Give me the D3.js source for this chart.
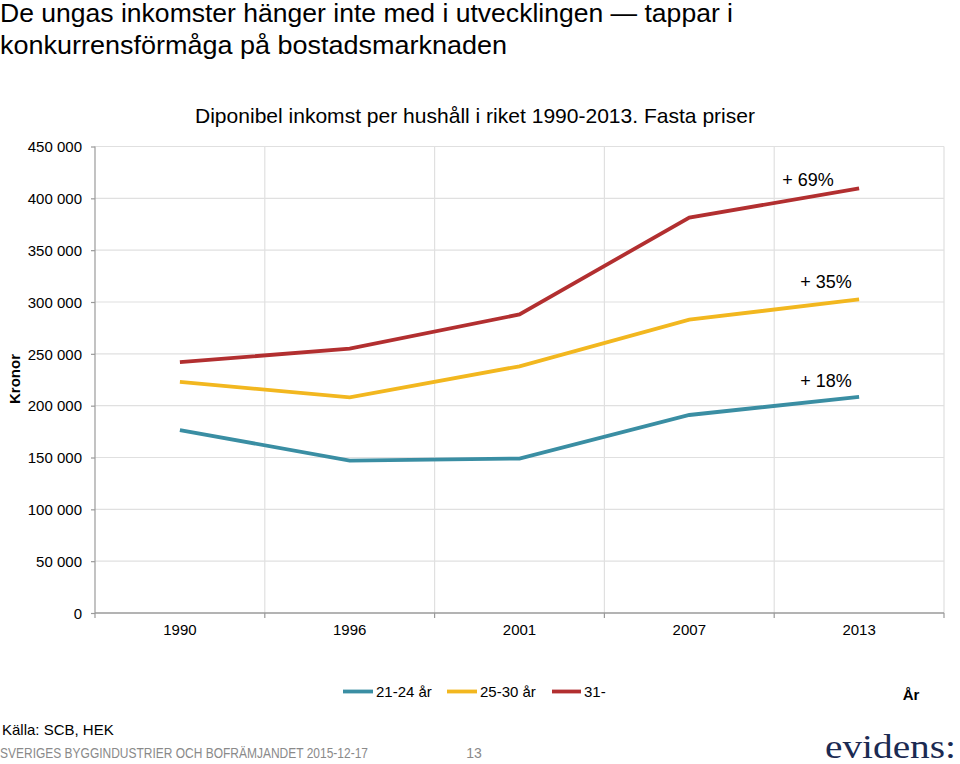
<!DOCTYPE html>
<html><head><meta charset="utf-8">
<script src="https://cdnjs.cloudflare.com/ajax/libs/d3/7.8.5/d3.min.js"></script>
<style>html,body{margin:0;padding:0;background:#fff}svg{display:block}text{font-family:"Liberation Sans",Arial,sans-serif;fill:#000}</style>
</head><body><svg id="c" width="960" height="764"></svg>
<script>
const years=["1990","1996","2001","2007","2013"];
const young=[176500,147000,149000,191000,208500];
const mid=[223000,208000,238000,283000,302500];
const older=[242000,255000,288000,381500,409500];
const yTicks=[0,50000,100000,150000,200000,250000,300000,350000,400000,450000];
const seriesNames=["21-24 år","25-30 år","31-"];
const seriesColors=["#3a8ea3","#f2b71f","#b22f30"];
const changeLabels=["+ 18%","+ 35%","+ 69%"];

const svg=d3.select("#c");
const L=95,R=944,T=146.5,B=613;
const x=d3.scaleBand().domain(years).range([L,R]);
const y=d3.scaleLinear().domain([0,450000]).range([B,T]);
const fmt=v=>d3.format(",")(v).replace(/,/g," ");

// gridlines
svg.append("g").selectAll("line").data(yTicks.slice(1)).join("line")
 .attr("x1",L).attr("x2",R).attr("y1",d=>y(d)).attr("y2",d=>y(d))
 .attr("stroke","#e0e0e0").attr("stroke-width",1.2);
const edges=years.map(d=>x(d)).concat([R]);
svg.append("g").selectAll("line").data(edges.slice(1)).join("line")
 .attr("x1",d=>d).attr("x2",d=>d).attr("y1",T).attr("y2",B)
 .attr("stroke","#e0e0e0").attr("stroke-width",1.2);

// axes
const yAxis=svg.append("g").attr("transform",`translate(${L},0)`)
 .call(d3.axisLeft(y).tickValues(yTicks).tickFormat(fmt).tickSize(4).tickPadding(9));
yAxis.selectAll("path,line").attr("stroke","#9a9a9a").attr("stroke-width",1.2);
yAxis.selectAll("text").attr("font-size",15).attr("dy","0.35em");
yAxis.select("path").attr("d",`M0,${T}V${B}`);
const xAxis=svg.append("g").attr("transform",`translate(0,${B})`)
 .call(d3.axisBottom(x).tickSize(0).tickPadding(11));
xAxis.selectAll("text").attr("font-size",15);
xAxis.select("path").attr("d",`M${L},0H${R}`).attr("stroke","#9a9a9a").attr("stroke-width",1.6);
svg.append("g").selectAll("line").data(edges).join("line")
 .attr("x1",d=>d).attr("x2",d=>d).attr("y1",B).attr("y2",B+5)
 .attr("stroke","#9a9a9a").attr("stroke-width",1.2);

// lines
const line=d3.line().x((d,i)=>x(years[i])+x.bandwidth()/2).y(d=>y(d));
[young,mid,older].forEach((s,i)=>{
 svg.append("path").attr("d",line(s)).attr("fill","none")
  .attr("stroke",seriesColors[i]).attr("stroke-width",3.8);
});

// titles
svg.append("text").attr("x",0).attr("y",21.5).attr("font-size",26).attr("textLength",733).attr("lengthAdjust","spacingAndGlyphs").text("De ungas inkomster hänger inte med i utvecklingen — tappar i");
svg.append("text").attr("x",0).attr("y",54).attr("font-size",26).attr("textLength",507).attr("lengthAdjust","spacingAndGlyphs").text("konkurrensförmåga på bostadsmarknaden");
svg.append("text").attr("x",195).attr("y",123).attr("font-size",21).attr("textLength",560).attr("lengthAdjust","spacingAndGlyphs").text("Diponibel inkomst per hushåll i riket 1990-2013. Fasta priser");

// annotations
[[826,387],[826,288],[808,186]].forEach((p,i)=>{
 svg.append("text").attr("x",p[0]).attr("y",p[1]).attr("font-size",18).attr("text-anchor","middle").text(changeLabels[i]);
});

svg.append("text").attr("transform","translate(20,379) rotate(-90)").attr("text-anchor","middle")
 .attr("font-size",15).attr("font-weight","bold").text("Kronor");

// legend
[[343,376],[447,480],[552,584]].forEach((p,i)=>{
 svg.append("line").attr("x1",p[0]).attr("x2",p[1]-3).attr("y1",691.5).attr("y2",691.5)
  .attr("stroke",seriesColors[i]).attr("stroke-width",3.8);
 svg.append("text").attr("x",p[1]).attr("y",697).attr("font-size",15).text(seriesNames[i]);
});
svg.append("text").attr("x",911).attr("y",700).attr("text-anchor","middle").attr("font-size",15).attr("font-weight","bold").text("År");

// footer
svg.append("text").attr("x",2).attr("y",735).attr("font-size",15).text("Källa: SCB, HEK");
svg.append("text").attr("x",0).attr("y",758).attr("font-size",14).attr("textLength",368).attr("lengthAdjust","spacingAndGlyphs").style("fill","#8a8a8a").text("SVERIGES BYGGINDUSTRIER OCH BOFRÄMJANDET 2015-12-17");
svg.append("text").attr("x",474).attr("y",758).attr("font-size",14).attr("text-anchor","middle").style("fill","#8a8a8a").text("13");
svg.append("text").attr("x",825).attr("y",758).attr("font-size",34).attr("textLength",131).attr("lengthAdjust","spacingAndGlyphs")
 .style("font-family",'"Liberation Serif",serif').style("fill","#1b2a52").text("evidens:");
</script></body></html>
